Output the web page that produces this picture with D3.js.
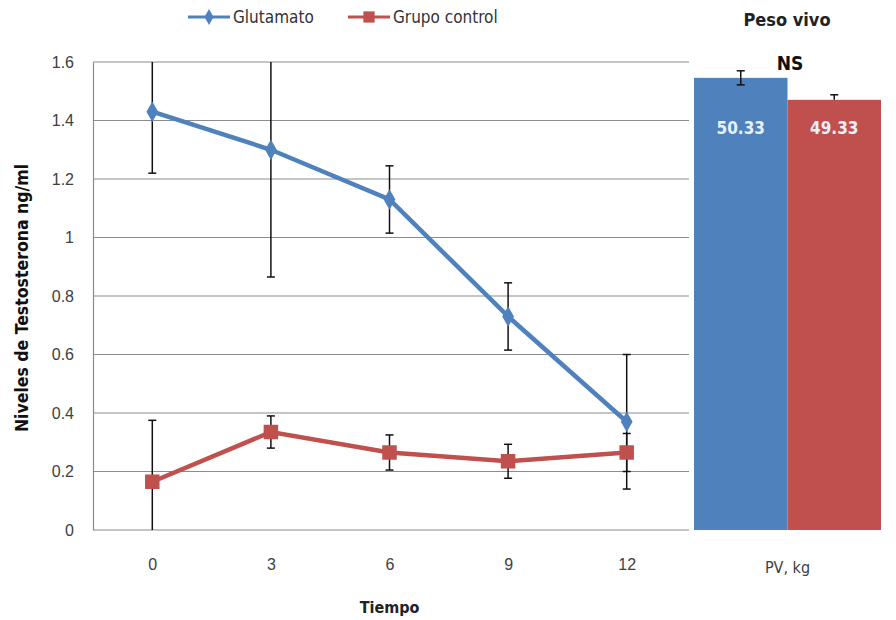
<!DOCTYPE html>
<html>
<head>
<meta charset="utf-8">
<script src="https://cdn.jsdelivr.net/npm/d3@7"></script>
<style>
  body { margin: 0; background: #fff; }
  svg { display: block; font-family: "DejaVu Sans Condensed", "Liberation Sans Narrow", sans-serif; }
</style>
</head>
<body>
<script>
// line chart data
let times = ["0", "3", "6", "9", "12"]
let glutamato = [1.43, 1.30, 1.13, 0.73, 0.37]
let glutamatoErr = [0.21, 0.435, 0.115, 0.115, 0.23]
let control = [0.165, 0.335, 0.265, 0.235, 0.265]
let controlErr = [0.21, 0.055, 0.06, 0.058, 0.065]
let yTicks = [0, 0.2, 0.4, 0.6, 0.8, 1, 1.2, 1.4, 1.6]

// live weight bars
let pvCategory = "PV, kg"
let pvGroups = ["Glutamato", "Grupo control"]
let pvValues = [50.33, 49.33]
let pvErr = [0.32, 0.23]

let colors = ["#4F81BD", "#C0504D"]

let width = 896, height = 620
let plotLeft = 93, plotRight = 686, plotTop = 62, plotBottom = 530

let svg = d3.select('body').append('svg')
  .attr('width', width).attr('height', height)

let x = d3.scalePoint().domain(times).range([plotLeft, plotRight]).padding(0.5)
let y = d3.scaleLinear().domain([0, 1.6]).range([plotBottom, plotTop])

// gridlines
svg.append('g')
  .selectAll('line').data(yTicks.slice(1)).enter().append('line')
  .attr('x1', plotLeft).attr('x2', plotRight + 3)
  .attr('y1', d => y(d)).attr('y2', d => y(d))
  .attr('stroke', '#8c8c8c').attr('stroke-width', 1.2)

// y axis
let yAxis = svg.append('g')
  .attr('transform', 'translate(' + plotLeft + ',0)')
  .call(d3.axisLeft(y).tickValues(yTicks).tickSize(0).tickPadding(19).tickFormat(d3.format('')))
yAxis.select('.domain').attr('stroke', '#8c8c8c').attr('stroke-width', 1.2)
yAxis.selectAll('text').attr('font-size', 16).attr('fill', '#404040')

// x axis
let xAxis = svg.append('g')
  .attr('transform', 'translate(0,' + plotBottom + ')')
  .call(d3.axisBottom(x).tickSize(0).tickPadding(29))
xAxis.select('.domain').remove()
svg.append('line')
  .attr('x1', plotLeft).attr('x2', plotRight + 3)
  .attr('y1', plotBottom).attr('y2', plotBottom)
  .attr('stroke', '#8c8c8c').attr('stroke-width', 1.2)
xAxis.selectAll('text').attr('font-size', 16).attr('fill', '#404040')

// clip for error bars
svg.append('clipPath').attr('id', 'plotclip')
  .append('rect').attr('x', plotLeft).attr('y', plotTop)
  .attr('width', plotRight - plotLeft).attr('height', plotBottom - plotTop)

let series = [
  {name: "Glutamato", values: glutamato, err: glutamatoErr, color: colors[0], marker: d3.symbolDiamond, size: 120},
  {name: "Grupo control", values: control, err: controlErr, color: colors[1], marker: d3.symbolSquare, size: 210}
]

let line = d3.line().x((d, i) => x(times[i])).y(d => y(d))

series.forEach(s => {
  // error bars
  let eb = svg.append('g').attr('clip-path', 'url(#plotclip)')
    .attr('stroke', '#111').attr('stroke-width', 1.5)
  s.values.forEach((v, i) => {
    let cx = x(times[i])
    eb.append('line').attr('x1', cx).attr('x2', cx).attr('y1', y(v + s.err[i])).attr('y2', y(v - s.err[i]))
    eb.append('line').attr('x1', cx - 4).attr('x2', cx + 4).attr('y1', y(v + s.err[i])).attr('y2', y(v + s.err[i]))
    eb.append('line').attr('x1', cx - 4).attr('x2', cx + 4).attr('y1', y(v - s.err[i])).attr('y2', y(v - s.err[i]))
  })
})

series.forEach(s => {
  svg.append('path').datum(s.values)
    .attr('d', line).attr('fill', 'none')
    .attr('stroke', s.color).attr('stroke-width', 4.5)
  svg.append('g').selectAll('path').data(s.values).enter().append('path')
    .attr('transform', (d, i) => 'translate(' + x(times[i]) + ',' + y(d) + ')')
    .attr('d', d3.symbol().type(s.marker).size(s.size))
    .attr('fill', s.color)
})

// bar panel
let xb = d3.scaleBand().domain([pvCategory]).range([694, 881])
let xg = d3.scaleBand().domain(pvGroups).range([0, xb.bandwidth()])
let yb = d3.scaleLinear().domain([29.78, 51.05]).range([plotBottom, plotTop])

let bars = svg.append('g').attr('transform', 'translate(' + xb(pvCategory) + ',0)')
bars.selectAll('rect').data(pvValues).enter().append('rect')
  .attr('x', (d, i) => xg(pvGroups[i]))
  .attr('y', d => yb(d))
  .attr('width', xg.bandwidth())
  .attr('height', d => plotBottom - yb(d))
  .attr('fill', (d, i) => colors[i])

pvValues.forEach((v, i) => {
  let cx = xg(pvGroups[i]) + xg.bandwidth() / 2
  let g = bars.append('g').attr('stroke', '#111').attr('stroke-width', 1.5)
  g.append('line').attr('x1', cx).attr('x2', cx).attr('y1', yb(v + pvErr[i])).attr('y2', yb(v))
  g.append('line').attr('x1', cx - 4).attr('x2', cx + 4).attr('y1', yb(v + pvErr[i])).attr('y2', yb(v + pvErr[i]))
  if (i == 0) {
    g.append('line').attr('x1', cx).attr('x2', cx).attr('y1', yb(v)).attr('y2', yb(v - pvErr[i]))
    g.append('line').attr('x1', cx - 4).attr('x2', cx + 4).attr('y1', yb(v - pvErr[i])).attr('y2', yb(v - pvErr[i]))
  }
})

bars.selectAll('text.val').data(pvValues).enter().append('text')
  .attr('class', 'val')
  .attr('x', (d, i) => xg(pvGroups[i]) + xg.bandwidth() / 2)
  .attr('y', 134)
  .attr('text-anchor', 'middle')
  .attr('font-size', 17).attr('font-weight', 'bold')
  .attr('fill', '#eaf0f8')
  .text(d => d.toFixed(2))

svg.append('text')
  .attr('x', xb(pvCategory) + xb.bandwidth() / 2).attr('y', plotBottom + 43)
  .attr('text-anchor', 'middle').attr('font-size', 16).attr('fill', '#404040')
  .text(pvCategory)

svg.append('text')
  .attr('x', 790).attr('y', 70)
  .attr('text-anchor', 'middle').attr('font-size', 19).attr('font-weight', 'bold')
  .attr('fill', '#111')
  .text('NS')

svg.append('text')
  .attr('x', 787).attr('y', 26)
  .attr('text-anchor', 'middle').attr('font-size', 18).attr('font-weight', 'bold')
  .attr('fill', '#222')
  .text('Peso vivo')

// axis titles
svg.append('text')
  .attr('transform', 'translate(28,' + ((plotTop + plotBottom) / 2 + 2) + ') rotate(-90)')
  .attr('text-anchor', 'middle').attr('font-size', 17.5).attr('font-weight', 'bold')
  .attr('fill', '#111')
  .text('Niveles de Testosterona ng/ml')

svg.append('text')
  .attr('x', x("6")).attr('y', 613)
  .attr('text-anchor', 'middle').attr('font-size', 16).attr('font-weight', 'bold')
  .attr('fill', '#222')
  .text('Tiempo')

// legend
let legend = svg.append('g')
series.forEach((s, i) => {
  let lx = i == 0 ? 188 : 348
  let g = legend.append('g').attr('transform', 'translate(' + lx + ',17)')
  g.append('line').attr('x1', 0).attr('x2', 42).attr('stroke', s.color).attr('stroke-width', 3)
  g.append('path').attr('transform', 'translate(21,0)')
    .attr('d', d3.symbol().type(s.marker).size(s.size * 0.6)).attr('fill', s.color)
  g.append('text').attr('x', 45).attr('y', 6)
    .attr('font-size', 17).attr('fill', '#333')
    .text(s.name)
})
</script>
</body>
</html>
